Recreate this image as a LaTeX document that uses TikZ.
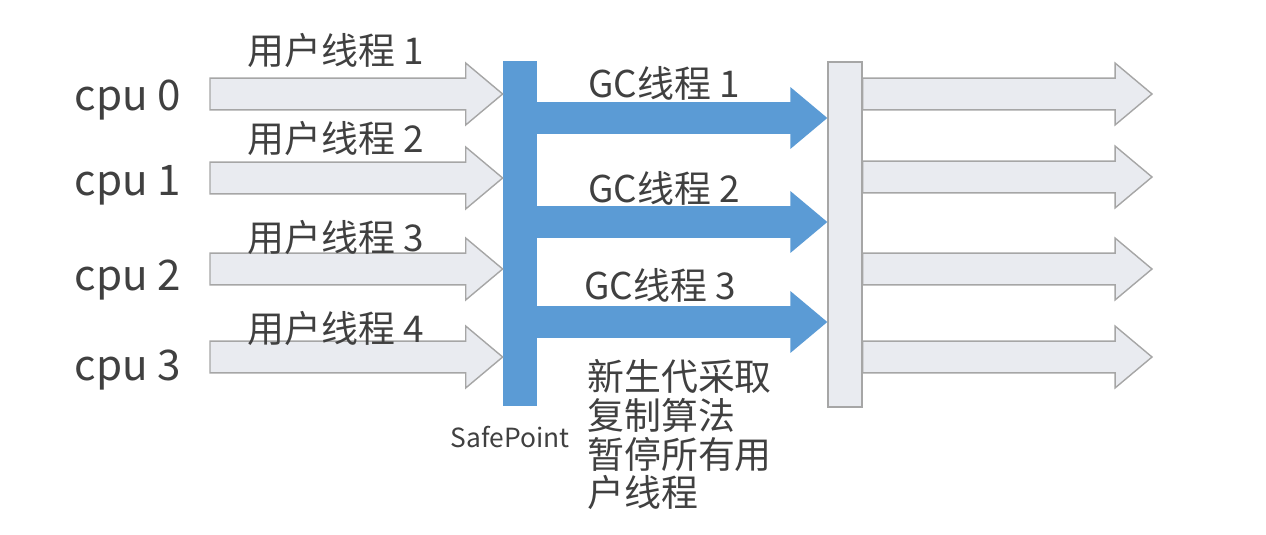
\documentclass[tikz,border=0pt]{standalone}
\usepackage{fontspec}
\setmainfont{Noto Sans CJK SC}
\usetikzlibrary{calc}
\definecolor{barblue}{HTML}{5B9BD5}
\definecolor{lightgrey}{HTML}{E9EBF0}
\definecolor{edgegrey}{HTML}{A6A6A6}
\definecolor{textgrey}{HTML}{404040}
\tikzset{
  blockarrow/.style={to path={let \p1=(\tikztostart), \p2=(\tikztotarget) in
    (\x1,\y1+9pt) -- (\x2-21pt,\y1+9pt) -- (\x2-21pt,\y1+17.6pt) -- (\x2,\y1)
    -- (\x2-21pt,\y1-17.6pt) -- (\x2-21pt,\y1-9pt) -- (\x1,\y1-9pt) -- cycle}},
  greyarrow/.style={blockarrow, fill=lightgrey, draw=edgegrey, line width=0.8pt},
  bluearrow/.style={blockarrow, fill=barblue, draw=none},
  cpulbl/.style={text=textgrey, font=\fontsize{24}{28}\selectfont},
  lbl/.style={text=textgrey, font=\fontsize{21}{25}\selectfont, inner sep=0pt, anchor=west},
  smalllbl/.style={text=textgrey, font=\fontsize{15}{18}\selectfont},
  note/.style={text=textgrey, font=\fontsize{21}{22.1}\selectfont, align=left, inner sep=0pt, anchor=north west},
  spbar/.style={fill=barblue, draw=none, minimum width=0.68cm, minimum height=6.9cm, inner sep=0pt},
  gcbar/.style={fill=lightgrey, draw=edgegrey, line width=0.8pt, minimum width=0.68cm, minimum height=6.9cm, inner sep=0pt},
}
\begin{document}
\begin{tikzpicture}[x=0.02cm, y=-0.02cm]
\useasboundingbox (0,0) rectangle (1266,534);
% the two bars
\node[spbar] (sp) at (520,233.5) {};
\node[gcbar] (gb) at (845,234.5) {};
% cpus and user threads
\node[cpulbl] (c0) at (128,100) {cpu 0};
\node[cpulbl] (c1) at (128,185) {cpu 1};
\node[cpulbl] (c2) at (128,280) {cpu 2};
\node[cpulbl] (c3) at (128,370) {cpu 3};
\coordinate (u0) at (210,94);
\coordinate (u1) at (210,178);
\coordinate (u2) at (210,269);
\coordinate (u3) at (210,357);
\draw[greyarrow] (u0) to (sp.west |- u0);
\draw[greyarrow] (u1) to (sp.west |- u1);
\draw[greyarrow] (u2) to (sp.west |- u2);
\draw[greyarrow] (u3) to (sp.west |- u3);
\node[lbl] (t0) at (247,50) {用户线程 1};
\node[lbl] (t1) at (247,138) {用户线程 2};
\node[lbl] (t2) at (247,237) {用户线程 3};
\node[lbl] (t3) at (247,328) {用户线程 4};
\node[smalllbl] (spl) at (510,437) {SafePoint};
% gc threads
\coordinate (g0) at (537,118);
\coordinate (g1) at (537,222);
\coordinate (g2) at (537,322);
\draw[bluearrow] (g0) to (gb.west |- g0);
\draw[bluearrow] (g1) to (gb.west |- g1);
\draw[bluearrow] (g2) to (gb.west |- g2);
\node[lbl] (gt0) at (588,83) {GC线程 1};
\node[lbl] (gt1) at (588,188) {GC线程 2};
\node[lbl] (gt2) at (584,285) {GC线程 3};
\node[note] (nt) at (587,359) {新生代采取\\复制算法\\暂停所有用\\户线程};
% back to user threads
\coordinate (o0) at (1152,94);
\coordinate (o1) at (1152,177);
\coordinate (o2) at (1152,269);
\coordinate (o3) at (1152,357);
\draw[greyarrow] (gb.east |- o0) to (o0);
\draw[greyarrow] (gb.east |- o1) to (o1);
\draw[greyarrow] (gb.east |- o2) to (o2);
\draw[greyarrow] (gb.east |- o3) to (o3);
\end{tikzpicture}
\end{document}
